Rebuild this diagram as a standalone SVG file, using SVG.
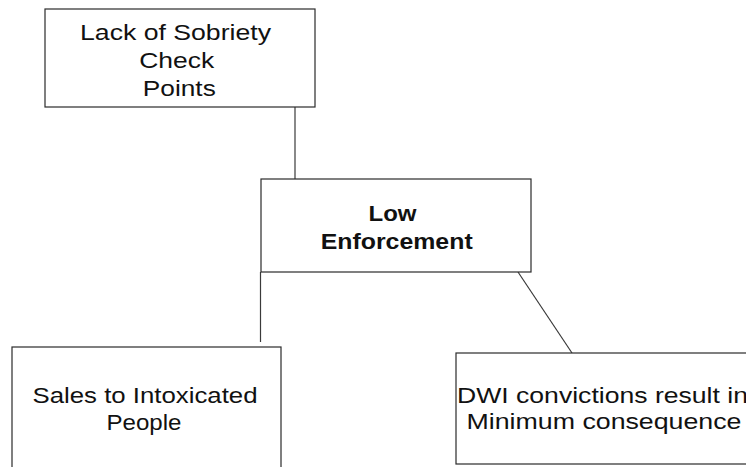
<svg xmlns="http://www.w3.org/2000/svg" width="746" height="467" viewBox="0 0 746 467">
  <style>
    .box { fill: #ffffff; stroke: #2b2b2b; stroke-width: 1.2; }
    .link { stroke: #3a3a3a; stroke-width: 1.2; fill: none; }
    .lbl { font-family: "Liberation Sans", Arial, sans-serif; font-size: 21.5px; fill: #111; text-anchor: middle; }
    .bold { font-weight: bold; font-size: 22px; }
  </style>
  <rect width="746" height="467" fill="#ffffff"/>

  <!-- connectors -->
  <g id="connectors">
    <line class="link" x1="295" y1="107" x2="295" y2="181"/>
    <line class="link" x1="260.5" y1="272" x2="260.5" y2="342"/>
    <line class="link" x1="518" y1="272" x2="572" y2="353"/>
  </g>

  <g id="node-sobriety">
    <rect class="box" x="45" y="9" width="270" height="98"/>
    <text class="lbl" x="175.5" y="39.5" textLength="191" lengthAdjust="spacingAndGlyphs">Lack of Sobriety</text>
    <text class="lbl" x="176.7" y="68" textLength="75" lengthAdjust="spacingAndGlyphs">Check</text>
    <text class="lbl" x="179.3" y="96" textLength="73" lengthAdjust="spacingAndGlyphs">Points</text>
  </g>

  <g id="node-enforcement">
    <rect class="box" x="261" y="179" width="270" height="93"/>
    <text class="lbl bold" x="392.5" y="220.5" textLength="48" lengthAdjust="spacingAndGlyphs">Low</text>
    <text class="lbl bold" x="396.7" y="248.5" textLength="152" lengthAdjust="spacingAndGlyphs">Enforcement</text>
  </g>

  <g id="node-sales">
    <rect class="box" x="12" y="347" width="269" height="140"/>
    <text class="lbl" x="145" y="403" textLength="225" lengthAdjust="spacingAndGlyphs">Sales to Intoxicated</text>
    <text class="lbl" x="144" y="430" textLength="75" lengthAdjust="spacingAndGlyphs">People</text>
  </g>

  <g id="node-dwi">
    <rect class="box" x="456" y="353" width="320" height="111"/>
    <text class="lbl" x="602.5" y="403" textLength="291" lengthAdjust="spacingAndGlyphs">DWI convictions result in</text>
    <text class="lbl" x="604" y="429" textLength="275" lengthAdjust="spacingAndGlyphs">Minimum consequence</text>
  </g>
</svg>
